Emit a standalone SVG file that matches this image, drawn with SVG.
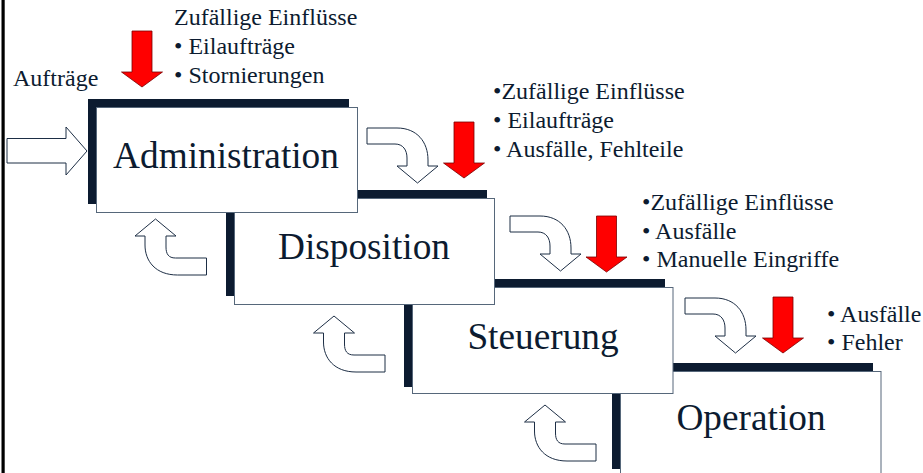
<svg xmlns="http://www.w3.org/2000/svg" width="923" height="473" viewBox="0 0 923 473">
<style>
.sh{fill:#0c1b30}
.bx{fill:#ffffff;stroke:#56677a;stroke-width:1}
.ttl{font-size:37.3px;fill:#0c1b30;text-anchor:middle}
.lb{font-size:24px;fill:#0c1b30}
.wa{fill:#ffffff;stroke:#1d2e45;stroke-width:1}
.ra{fill:#ff0000;stroke:#7a0000;stroke-width:0.8}
</style>
<defs>
<path id="red" d="M-10,0 H10 V41 H20.5 L0,56 L-20.5,41 H-10 Z"/>
<path id="dn" d="M0,0 H30 C50,0 61,14 61,32 V38 H71 L50.5,55 L30,38 H40 V30 C40,22 36,16 28,16 H0 Z"/>
<path id="up" d="M0,0 L20.5,17 H10.5 V28 C10.5,35 13,39 20,39 H51 V56 H22 C0,56 -10.5,42 -10.5,26 V17 H-20.5 Z"/>
</defs>
<rect x="0" y="0" width="923" height="473" fill="#ffffff"/>
<rect x="1.5" y="0" width="3.2" height="473" fill="#000000"/>
<g font-family="Liberation Serif, DejaVu Serif, serif">
<g id="operation">
<rect class="sh" x="612" y="363" width="261" height="106"/>
<rect class="bx" x="620.5" y="371.5" width="260.5" height="106"/>
<text class="ttl" x="751" y="430">Operation</text>
</g>
<g id="steuerung">
<rect class="sh" x="404" y="279" width="261" height="108"/>
<rect class="bx" x="412.5" y="287.5" width="260.5" height="106"/>
<text class="ttl" x="543" y="349">Steuerung</text>
</g>
<g id="disposition">
<rect class="sh" x="226" y="190" width="261" height="106"/>
<rect class="bx" x="234.5" y="198.5" width="260" height="106"/>
<text class="ttl" x="364" y="259">Disposition</text>
</g>
<g id="administration">
<rect class="sh" x="88" y="99" width="261" height="105"/>
<rect class="bx" x="96.5" y="107.5" width="261" height="105"/>
<text class="ttl" x="226" y="168">Administration</text>
</g>

<g id="connectors">
<path class="wa" d="M7,138.5 H66 V127 L87,151 L66,175 V163 H7 Z"/>
<use href="#dn" class="wa" x="367" y="128"/>
<use href="#dn" class="wa" x="510" y="216"/>
<use href="#dn" class="wa" x="685" y="298"/>
<use href="#up" class="wa" x="155.5" y="219"/>
<use href="#up" class="wa" x="334" y="316"/>
<use href="#up" class="wa" x="545" y="405"/>
<use href="#red" class="ra" x="142" y="31"/>
<use href="#red" class="ra" x="464" y="122"/>
<use href="#red" class="ra" x="606.5" y="216"/>
<use href="#red" class="ra" x="783" y="297"/>
</g>

<g id="labels">
<text class="lb" x="13" y="86">Aufträge</text>
<text class="lb" x="174" y="25">Zufällige Einflüsse</text>
<text class="lb" x="174" y="54">• Eilaufträge</text>
<text class="lb" x="174" y="83">• Stornierungen</text>
<text class="lb" x="493" y="99">•Zufällige Einflüsse</text>
<text class="lb" x="493" y="128">• Eilaufträge</text>
<text class="lb" x="493" y="157">• Ausfälle, Fehlteile</text>
<text class="lb" x="642" y="210">•Zufällige Einflüsse</text>
<text class="lb" x="642" y="239">• Ausfälle</text>
<text class="lb" x="642" y="267">• Manuelle Eingriffe</text>
<text class="lb" x="827" y="322">• Ausfälle</text>
<text class="lb" x="827" y="350">• Fehler</text>
</g>
</g>
</svg>
